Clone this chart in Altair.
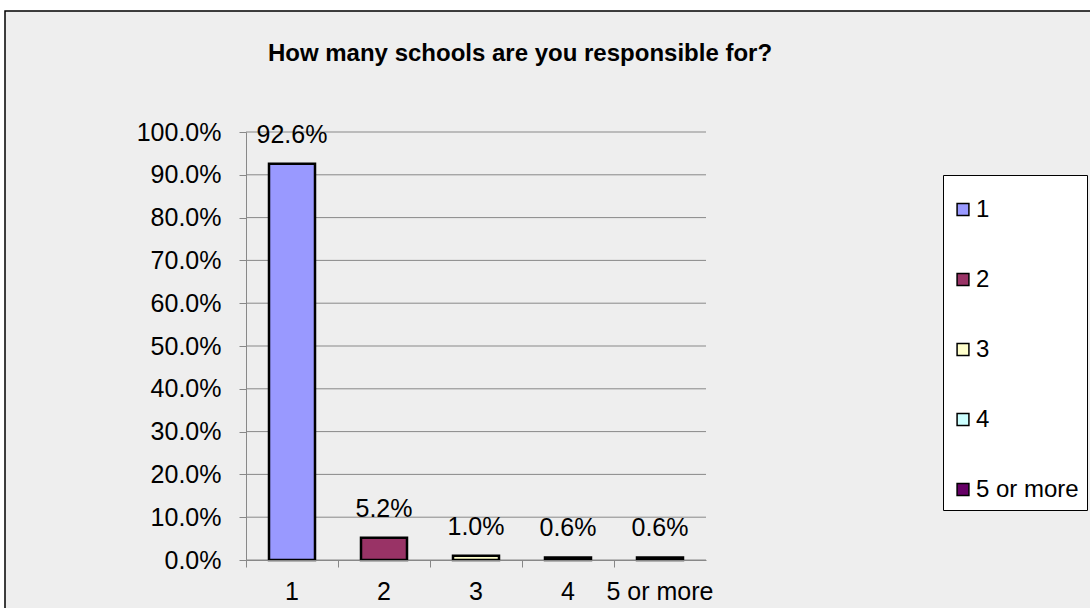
import altair as alt
import pandas as pd

categories = ["1", "2", "3", "4", "5 or more"]
shares = [0.926, 0.052, 0.010, 0.006, 0.006]
colors = ["#9999FF", "#993366", "#FFFFCC", "#CCFFFF", "#660066"]
y_ticks = [0.0, 0.1, 0.2, 0.3, 0.4, 0.5, 0.6, 0.7, 0.8, 0.9, 1.0]

df = pd.DataFrame({"cat": categories, "share": shares})
grid_df = pd.DataFrame({"tick": y_ticks})
FONT = "Liberation Sans"

frame = alt.Chart(pd.DataFrame({"k": [0]})).mark_rect(
    fill="#EEEEEE", stroke="black", strokeWidth=1.5
).encode(
    x=alt.value(-241), x2=alt.value(900), y=alt.value(-121), y2=alt.value(520)
)

grid = alt.Chart(grid_df).mark_rule(color="#888888", strokeWidth=1).encode(
    y=alt.Y("tick:Q"), x=alt.value(0), x2=alt.value(460)
)

xenc = alt.X(
    "cat:N", sort=categories, title=None,
    scale=alt.Scale(paddingInner=0.5, paddingOuter=0.25),
    axis=alt.Axis(labelAngle=0, labelFontSize=25, labelFont=FONT, labelColor="black",
                  domainColor="#888888", tickColor="#888888", tickSize=7,
                  bandPosition=-0.5, labelPadding=12, grid=False, zindex=1),
)
yenc = alt.Y(
    "share:Q", title=None,
    scale=alt.Scale(domain=[0, 1]),
    axis=alt.Axis(values=y_ticks, format=".1%", labelFontSize=25, labelFont=FONT,
                  labelColor="black", domainColor="#888888", tickColor="#888888",
                  tickSize=7, labelPadding=18, grid=False, zindex=1),
)

bars = alt.Chart(df).mark_bar(stroke="black", strokeWidth=2.5).encode(
    x=xenc, y=yenc,
    color=alt.Color(
        "cat:N", sort=categories,
        scale=alt.Scale(domain=categories, range=colors),
        legend=alt.Legend(
            title=" ", titleFontSize=2, titlePadding=12.5, orient="none",
            legendX=697, legendY=43, padding=8, strokeColor="black",
            fillColor="white", symbolType="square", symbolStrokeColor="black",
            symbolStrokeWidth=1.5, symbolSize=140, labelFontSize=24,
            labelFont=FONT, labelColor="black", rowPadding=46, labelOffset=1,
        ),
    ),
)

labels = alt.Chart(df).mark_text(
    baseline="bottom", dy=-16, fontSize=25, font=FONT, color="black"
).encode(
    x=alt.X("cat:N", sort=categories),
    y=alt.Y("share:Q"),
    text=alt.Text("share:Q", format=".1%"),
)

chart = alt.layer(frame, grid, bars, labels).properties(
    width=460, height=428,
    padding={"left": 246, "top": 132, "right": 384, "bottom": 48},
    autosize=alt.AutoSizeParams(type="none"),
    background="white",
    title=alt.TitleParams(
        "How many schools are you responsible for?", fontSize=24, fontWeight="bold",
        font=FONT, color="black", anchor="middle", dx=44, offset=-56,
    ),
).configure_view(stroke=None)

chart.save("out.html", embed_options={"renderer": "svg", "actions": False})
